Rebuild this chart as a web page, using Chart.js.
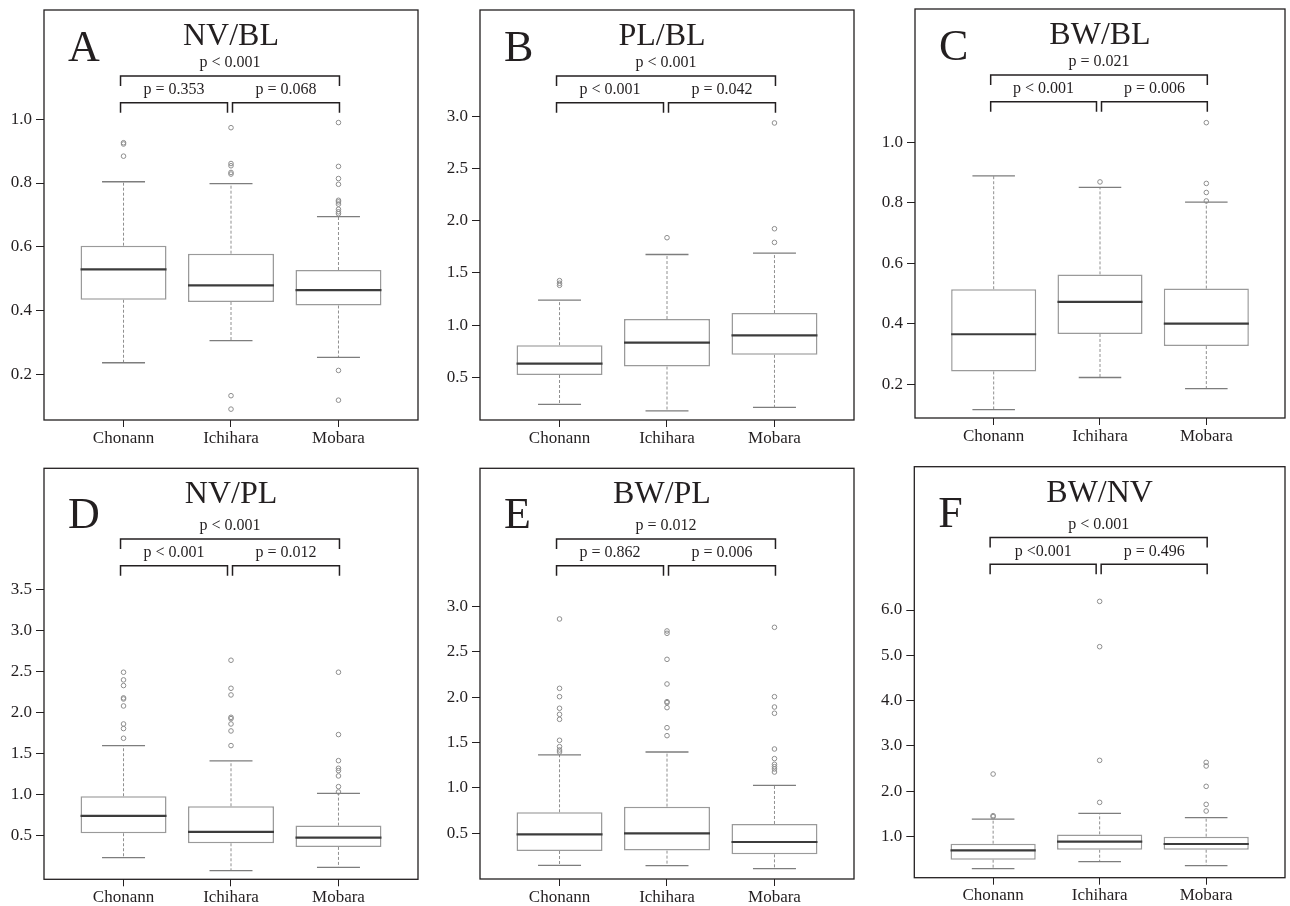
<!DOCTYPE html>
<html>
<head>
<meta charset="utf-8">
<title>Box plots A-F</title>
<script src="https://cdn.jsdelivr.net/npm/chart.js@4.4.0/dist/chart.umd.min.js"></script>
<style>
    html, body { margin: 0; padding: 0; background: #fff; }
    #wrap { position: relative; width: 1290px; height: 906px; }
    #wrap canvas { position: absolute; }
</style>
</head>
<body>
<div id="wrap"></div>
<script>
const categories = ['Chonann', 'Ichihara', 'Mobara'];
const panelLetters = ['A', 'B', 'C', 'D', 'E', 'F'];
const panelTitles = ['NV/BL', 'PL/BL', 'BW/BL', 'NV/PL', 'BW/PL', 'BW/NV'];
const pAll = ['p < 0.001', 'p < 0.001', 'p = 0.021', 'p < 0.001', 'p = 0.012', 'p < 0.001'];
const pLeft = ['p = 0.353', 'p < 0.001', 'p < 0.001', 'p < 0.001', 'p = 0.862', 'p <0.001'];
const pRight = ['p = 0.068', 'p = 0.042', 'p = 0.006', 'p = 0.012', 'p = 0.006', 'p = 0.496'];

// tick labels shown on each y axis
const tickValues = [
    [0.2, 0.4, 0.6, 0.8, 1.0],
    [0.5, 1.0, 1.5, 2.0, 2.5, 3.0],
    [0.2, 0.4, 0.6, 0.8, 1.0],
    [0.5, 1.0, 1.5, 2.0, 2.5, 3.0, 3.5],
    [0.5, 1.0, 1.5, 2.0, 2.5, 3.0],
    [1.0, 2.0, 3.0, 4.0, 5.0, 6.0]
];

// box plot statistics, one row per panel, one value per category
const lowerWhisker = [
    [0.238, 0.307, 0.255],
    [0.240, 0.179, 0.212],
    [0.116, 0.222, 0.185],
    [0.237, 0.079, 0.119],
    [0.147, 0.143, 0.110],
    [0.286, 0.440, 0.352]
];
const q1 = [
    [0.435, 0.428, 0.417],
    [0.522, 0.603, 0.715],
    [0.242, 0.366, 0.326],
    [0.533, 0.411, 0.367],
    [0.305, 0.309, 0.268],
    [0.485, 0.705, 0.705]
];
const medians = [
    [0.530, 0.480, 0.465],
    [0.631, 0.833, 0.901],
    [0.365, 0.472, 0.400],
    [0.744, 0.549, 0.480],
    [0.489, 0.500, 0.404],
    [0.691, 0.882, 0.831]
];
const q3 = [
    [0.604, 0.579, 0.528],
    [0.808, 1.058, 1.115],
    [0.514, 0.563, 0.516],
    [0.983, 0.861, 0.626],
    [0.732, 0.794, 0.603],
    [0.838, 1.044, 0.993]
];
const upperWhisker = [
    [0.804, 0.798, 0.695],
    [1.240, 1.676, 1.689],
    [0.889, 0.851, 0.802],
    [1.599, 1.412, 1.019],
    [1.364, 1.397, 1.029],
    [1.383, 1.508, 1.412]
];
const outliers = [
    [[0.926, 0.922, 0.884], [0.973, 0.861, 0.854, 0.833, 0.828, 0.135, 0.093], [0.989, 0.852, 0.814, 0.796, 0.746, 0.741, 0.734, 0.718, 0.710, 0.704, 0.214, 0.121]],
    [[1.426, 1.401, 1.381], [1.837], [2.936, 1.923, 1.792]],
    [[], [0.869], [1.065, 0.864, 0.834, 0.806]],
    [[2.491, 2.398, 2.329, 2.179, 2.166, 2.081, 1.862, 1.806, 1.688], [2.637, 2.296, 2.215, 1.943, 1.927, 1.862, 1.777, 1.599], [2.491, 1.733, 1.416, 1.323, 1.295, 1.230, 1.100, 1.035]],
    [[2.864, 2.099, 2.007, 1.879, 1.812, 1.757, 1.526, 1.456, 1.419, 1.397], [2.732, 2.706, 2.419, 2.147, 1.952, 1.941, 1.886, 1.665, 1.577], [2.772, 2.007, 1.893, 1.824, 1.430, 1.324, 1.261, 1.235, 1.210, 1.176]],
    [[2.377, 1.457, 1.435], [6.191, 5.190, 2.679, 1.751], [2.635, 2.554, 2.105, 1.707, 1.560]]
];

// axis ranges (space above the data is left for the brackets)
const yMin = [0.059, 0.091, 0.088, -0.027, -0.004, 0.087];
const yMax = [1.341, 4.018, 1.441, 4.971, 4.526, 9.166];

// plot frame inside each 430x453 canvas: left, top, right, bottom
const frames = [
    [44, 10, 418, 420],
    [50, 10, 424, 420],
    [55, 9, 428, 418],
    [44, 15.3, 418, 426.3],
    [50, 15.3, 424, 426],
    [54.3, 13.7, 428.3, 424.7]
];
const letterBase = [50.7, 60];
const annoDy = [0, 4.8];
const titleDx = [0, -5, 0];

const ink = '#231f20';
const serif = '"Liberation Serif", "Times New Roman", serif';

function bracket(ctx, x1, x2, y, leg) {
    ctx.beginPath();
    ctx.moveTo(x1, y + leg);
    ctx.lineTo(x1, y);
    ctx.lineTo(x2, y);
    ctx.lineTo(x2, y + leg);
    ctx.stroke();
}

const boxPlotPlugin = {
    id: 'boxPlot',
    beforeDatasetsDraw(chart) {
        const p = chart.options.plugins.boxPlot.panel;
        const { ctx, scales: { x, y } } = chart;
        const cap = x.getPixelForValue(1.2) - x.getPixelForValue(1);
        ctx.save();
        categories.forEach((c, j) => {
            const px = x.getPixelForValue(j + 1);
            // dashed whiskers
            ctx.strokeStyle = '#8f8f8f';
            ctx.lineWidth = 1;
            ctx.setLineDash([3, 2]);
            ctx.beginPath();
            ctx.moveTo(px, y.getPixelForValue(q3[p][j]));
            ctx.lineTo(px, y.getPixelForValue(upperWhisker[p][j]));
            ctx.moveTo(px, y.getPixelForValue(q1[p][j]));
            ctx.lineTo(px, y.getPixelForValue(lowerWhisker[p][j]));
            ctx.stroke();
            // whisker caps
            ctx.setLineDash([]);
            ctx.strokeStyle = '#7d7d7d';
            ctx.lineWidth = 1.3;
            ctx.beginPath();
            [upperWhisker[p][j], lowerWhisker[p][j]].forEach(v => {
                const py = y.getPixelForValue(v);
                ctx.moveTo(px - cap, py);
                ctx.lineTo(px + cap, py);
            });
            ctx.stroke();
        });
        ctx.restore();
    },
    afterDatasetsDraw(chart) {
        const p = chart.options.plugins.boxPlot.panel;
        const { ctx, scales: { x, y } } = chart;
        ctx.save();
        ctx.strokeStyle = '#3c3c3c';
        ctx.lineWidth = 2.2;
        categories.forEach((c, j) => {
            const py = y.getPixelForValue(medians[p][j]);
            ctx.beginPath();
            ctx.moveTo(x.getPixelForValue(j + 0.6), py);
            ctx.lineTo(x.getPixelForValue(j + 1.4), py);
            ctx.stroke();
        });
        ctx.restore();
    },
    afterDraw(chart) {
        const p = chart.options.plugins.boxPlot.panel;
        const row = Math.floor(p / 3), col = p % 3;
        const { ctx, chartArea: ca, scales: { x } } = chart;
        ctx.save();
        ctx.strokeStyle = ink;
        ctx.lineWidth = 1.3;
        ctx.strokeRect(ca.left, ca.top, ca.right - ca.left, ca.bottom - ca.top);

        ctx.fillStyle = ink;
        ctx.textBaseline = 'alphabetic';
        ctx.textAlign = 'left';
        ctx.font = '44px ' + serif;
        ctx.fillText(panelLetters[p], ca.left + 24, ca.top + letterBase[row]);

        ctx.textAlign = 'center';
        ctx.font = '32px ' + serif;
        ctx.fillText(panelTitles[p], x.getPixelForValue(2) + titleDx[col], ca.top + 35);

        const dy = ca.top + annoDy[row];
        const c1 = x.getPixelForValue(1) - 3;
        const c3 = x.getPixelForValue(3) + 1;
        const m = x.getPixelForValue(2);
        ctx.lineWidth = 1.5;
        bracket(ctx, c1, c3, dy + 66, 10);
        bracket(ctx, c1, m - 3.5, dy + 92.7, 10);
        bracket(ctx, m + 1.5, c3, dy + 92.7, 10);

        ctx.font = '16px ' + serif;
        ctx.fillText(pAll[p], (c1 + c3) / 2, dy + 57);
        ctx.fillText(pLeft[p], (c1 + m - 3.5) / 2, dy + 84.3);
        ctx.fillText(pRight[p], (m + 1.5 + c3) / 2, dy + 84.3);
        ctx.restore();
    }
};

const wrap = document.getElementById('wrap');

panelLetters.forEach((letter, p) => {
    const col = p % 3, row = Math.floor(p / 3);
    const [fl, ft, fr, fb] = frames[p];
    const canvas = document.createElement('canvas');
    canvas.width = 430;
    canvas.height = 453;
    canvas.style.left = (col * 430) + 'px';
    canvas.style.top = (row * 453) + 'px';
    wrap.appendChild(canvas);

    const boxes = categories.map((c, j) => ({ x: j + 1, y: [q1[p][j], q3[p][j]] }));
    const points = [];
    outliers[p].forEach((list, j) => list.forEach(v => points.push({ x: j + 1, y: v })));

    new Chart(canvas.getContext('2d'), {
        type: 'bar',
        data: {
            datasets: [{
                type: 'bar',
                data: boxes,
                backgroundColor: '#ffffff',
                borderColor: '#9a9a9a',
                borderWidth: 1.5,
                borderSkipped: false,
                categoryPercentage: 0.8,
                barPercentage: 1.0
            }, {
                type: 'scatter',
                data: points,
                pointRadius: 2.3,
                pointBorderWidth: 1,
                pointBorderColor: '#8d8d8d',
                pointBackgroundColor: 'rgba(0,0,0,0)',
                showLine: false
            }]
        },
        options: {
            responsive: false,
            animation: false,
            devicePixelRatio: 1,
            events: [],
            layout: { padding: { left: 0, top: ft, right: 430 - fr, bottom: 0 } },
            scales: {
                x: {
                    type: 'linear',
                    min: 0.26,
                    max: 3.74,
                    offset: false,
                    afterBuildTicks: axis => { axis.ticks = categories.map((c, j) => ({ value: j + 1 })); },
                    afterFit: axis => {
                        axis.height = 453 - fb;
                        axis.paddingLeft = 0; axis.paddingRight = 0;
                    },
                    ticks: {
                        autoSkip: false,
                        maxRotation: 0,
                        padding: 1,
                        color: ink,
                        font: { family: serif, size: 17 },
                        callback: v => categories[Math.round(v) - 1]
                    },
                    grid: { display: true, offset: false, drawOnChartArea: false, drawTicks: true, tickLength: 7, color: ink, lineWidth: 1 },
                    border: { display: false }
                },
                y: {
                    type: 'linear',
                    min: yMin[p],
                    max: yMax[p],
                    bounds: 'data',
                    afterBuildTicks: axis => { axis.ticks = tickValues[p].map(v => ({ value: v })); },
                    afterFit: axis => {
                        axis.width = fl;
                        axis.paddingTop = 0; axis.paddingBottom = 0;
                    },
                    ticks: {
                        padding: 4,
                        color: ink,
                        font: { family: serif, size: 17 },
                        callback: v => Number(v).toFixed(1)
                    },
                    grid: { display: true, offset: false, drawOnChartArea: false, drawTicks: true, tickLength: 8, color: ink, lineWidth: 1 },
                    border: { display: false }
                }
            },
            plugins: {
                legend: { display: false },
                tooltip: { enabled: false },
                boxPlot: { panel: p }
            }
        },
        plugins: [boxPlotPlugin]
    });
});
</script>
</body>
</html>
